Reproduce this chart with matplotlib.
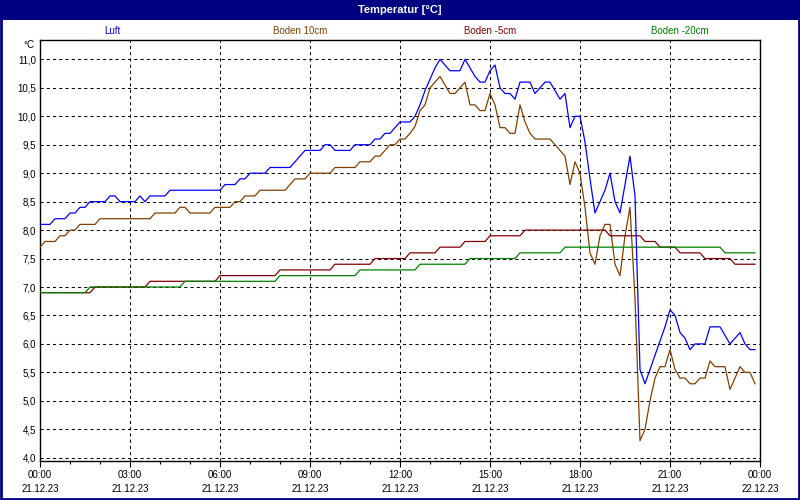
import matplotlib
matplotlib.use("Agg")
import matplotlib.pyplot as plt
import matplotlib.dates as mdates
import pandas as pd
from matplotlib.patches import Rectangle
from matplotlib.ticker import FuncFormatter, MultipleLocator

plt.rcParams['font.family'] = ['Liberation Sans', 'DejaVu Sans']

DAY = "2023-12-21"
TITLE = "Temperatur [°C]"
UNIT = "°C"

# series vertices (10 min logging)
luft_t = ["00:00", "00:20", "00:30", "00:50", "01:00", "01:10", "01:20", "01:30", "01:40", "02:10",
          "02:20", "02:30", "02:40", "03:10", "03:20", "03:30", "03:40", "04:10", "04:20", "06:00",
          "06:10", "06:30", "06:40", "06:50", "07:00", "07:30", "07:40", "08:20", "08:30", "08:40",
          "08:50", "09:20", "09:30", "09:40", "09:50", "10:20", "10:30", "11:00", "11:10", "11:20",
          "11:30", "11:40", "11:50", "12:00", "12:20", "12:30", "12:40", "12:50", "13:00", "13:10",
          "13:20", "13:30", "13:40", "14:00", "14:10", "14:20", "14:30", "14:40", "14:50", "15:00",
          "15:10", "15:20", "15:30", "15:40", "15:50", "16:00", "16:20", "16:30", "16:40", "16:50",
          "17:00", "17:10", "17:20", "17:30", "17:40", "17:50", "18:00", "18:10", "18:20", "18:30",
          "18:40", "18:50", "19:00", "19:10", "19:20", "19:30", "19:40", "19:50", "20:00", "20:10",
          "20:20", "20:30", "20:40", "20:50", "21:00", "21:10", "21:20", "21:30", "21:40", "21:50",
          "22:10", "22:20", "22:40", "22:50", "23:00", "23:10", "23:20", "23:30", "23:40", "23:50"]
luft_v = [8.1, 8.1, 8.2, 8.2, 8.3, 8.3, 8.4, 8.4, 8.5, 8.5,
          8.6, 8.6, 8.5, 8.5, 8.6, 8.5, 8.6, 8.6, 8.7, 8.7,
          8.8, 8.8, 8.9, 8.9, 9.0, 9.0, 9.1, 9.1, 9.2, 9.3,
          9.4, 9.4, 9.5, 9.5, 9.4, 9.4, 9.5, 9.5, 9.6, 9.6,
          9.7, 9.7, 9.8, 9.9, 9.9, 10.0, 10.2, 10.45, 10.65, 10.85,
          11.0, 10.9, 10.8, 10.8, 11.0, 10.85, 10.7, 10.6, 10.6, 10.8,
          10.9, 10.5, 10.4, 10.4, 10.3, 10.6, 10.6, 10.4, 10.5, 10.6,
          10.6, 10.45, 10.3, 10.4, 9.8, 10.0, 10.0, 9.55, 8.9, 8.3,
          8.5, 8.7, 9.0, 8.5, 8.3, 8.8, 9.3, 8.6, 5.55, 5.3,
          5.55, 5.8, 6.05, 6.3, 6.6, 6.5, 6.2, 6.1, 5.9, 6.0,
          6.0, 6.3, 6.3, 6.15, 6.0, 6.1, 6.2, 6.0, 5.9, 5.9]

boden10_t = ["00:00", "00:10", "00:30", "00:40", "00:50", "01:00", "01:10", "01:20", "01:50", "02:00",
             "03:40", "03:50", "04:30", "04:40", "04:50", "05:00", "05:40", "05:50", "06:20", "06:30",
             "06:40", "06:50", "07:10", "07:20", "08:10", "08:20", "08:30", "08:50", "09:00", "09:40",
             "09:50", "10:30", "10:40", "11:00", "11:10", "11:20", "11:30", "11:40", "11:50", "12:00",
             "12:10", "12:20", "12:30", "12:40", "12:50", "13:00", "13:10", "13:20", "13:30", "13:40",
             "13:50", "14:00", "14:10", "14:20", "14:30", "14:40", "14:50", "15:00", "15:10", "15:20",
             "15:30", "15:40", "15:50", "16:00", "16:10", "16:20", "16:30", "17:00", "17:10", "17:20",
             "17:30", "17:40", "17:50", "18:00", "18:10", "18:20", "18:30", "18:40", "18:50", "19:00",
             "19:10", "19:20", "19:30", "19:40", "19:50", "20:00", "20:10", "20:20", "20:30", "20:40",
             "20:50", "21:00", "21:10", "21:20", "21:30", "21:40", "21:50", "22:00", "22:10", "22:20",
             "22:30", "22:50", "23:00", "23:10", "23:20", "23:30", "23:40", "23:50"]
boden10_v = [7.7, 7.8, 7.8, 7.9, 7.9, 8.0, 8.0, 8.1, 8.1, 8.2,
             8.2, 8.3, 8.3, 8.4, 8.4, 8.3, 8.3, 8.4, 8.4, 8.5,
             8.5, 8.6, 8.6, 8.7, 8.7, 8.8, 8.9, 8.9, 9.0, 9.0,
             9.1, 9.1, 9.2, 9.2, 9.3, 9.3, 9.4, 9.5, 9.5, 9.6,
             9.6, 9.7, 9.82, 10.1, 10.2, 10.5, 10.6, 10.7, 10.55, 10.4,
             10.4, 10.5, 10.6, 10.2, 10.2, 10.1, 10.1, 10.4, 10.2, 9.8,
             9.8, 9.7, 9.7, 10.2, 9.9, 9.7, 9.6, 9.6, 9.5, 9.4,
             9.3, 8.8, 9.2, 9.0, 8.4, 7.6, 7.4, 7.9, 8.1, 8.1,
             7.4, 7.2, 7.9, 8.4, 6.8, 4.3, 4.5, 5.0, 5.4, 5.6,
             5.6, 5.9, 5.55, 5.4, 5.4, 5.3, 5.3, 5.4, 5.4, 5.7,
             5.6, 5.6, 5.2, 5.4, 5.6, 5.5, 5.5, 5.3]

boden5_t = ["00:00", "01:40", "01:50", "03:30", "03:40", "05:50", "06:00", "07:50", "08:00", "09:40",
            "09:50", "11:00", "11:10", "12:10", "12:20", "13:10", "13:20", "14:00", "14:10", "14:50",
            "15:00", "16:00", "16:10", "18:50", "19:00", "20:00", "20:10", "20:30", "20:40", "21:10",
            "21:20", "22:00", "22:10", "23:00", "23:10", "23:50"]
boden5_v = [6.9, 6.9, 7.0, 7.0, 7.1, 7.1, 7.2, 7.2, 7.3, 7.3,
            7.4, 7.4, 7.5, 7.5, 7.6, 7.6, 7.7, 7.7, 7.8, 7.8,
            7.9, 7.9, 8.0, 8.0, 7.9, 7.9, 7.8, 7.8, 7.7, 7.7,
            7.6, 7.6, 7.5, 7.5, 7.4, 7.4]

boden20_t = ["00:00", "01:30", "01:40", "04:40", "04:50", "07:50", "08:00", "10:30", "10:40", "12:30",
             "12:40", "14:10", "14:20", "15:50", "16:00", "17:20", "17:30", "22:40", "22:50", "23:50"]
boden20_v = [6.9, 6.9, 7.0, 7.0, 7.1, 7.1, 7.2, 7.2, 7.3, 7.3,
             7.4, 7.4, 7.5, 7.5, 7.6, 7.6, 7.7, 7.7, 7.6, 7.6]

labels = ["Luft", "Boden 10cm", "Boden -5cm", "Boden -20cm"]
colors = ["#0000ff", "#804000", "#800000", "#008000"]


def to_dt(times):
    return pd.to_datetime([f"{DAY} {t}" for t in times])


fig = plt.figure(figsize=(8, 5), dpi=100)
fig.patch.set_facecolor("white")

# title bar + frame
fig.add_artist(Rectangle((0, 1 - 20 / 500), 1, 20 / 500, transform=fig.transFigure,
                         facecolor="#000080", edgecolor="none"))
fig.add_artist(Rectangle((0.001, 0.002), 0.998, 0.996, transform=fig.transFigure,
                         facecolor="none", edgecolor="#000080", linewidth=2))
fig.text(0.5, 1 - 10 / 500, TITLE, color="white", fontsize=8, fontweight="bold",
         ha="center", va="center")

for lab, col, xp in zip(labels, colors, [112, 300, 490, 680]):
    fig.text(xp / 800, 1 - 31 / 500, lab, color=col, fontsize=7, ha="center", va="center")
fig.text(29 / 800, 1 - 44.5 / 500, UNIT, fontsize=7, ha="center", va="center")

ax = fig.add_axes([40 / 800, 1 - 460.7 / 500, 720 / 800, 420.7 / 500])
ax.set_facecolor("white")

# draw order: brown under red under green, blue on top
series = [(boden10_t, boden10_v, 1), (boden5_t, boden5_v, 2),
          (boden20_t, boden20_v, 3), (luft_t, luft_v, 0)]
for z, (t, v, i) in enumerate(series):
    ax.plot(to_dt(t), v, color=colors[i], linewidth=0.9, zorder=3 + z)

ax.set_xlim(pd.Timestamp(f"{DAY} 00:00"), pd.Timestamp("2023-12-22 00:00"))
ax.set_ylim(3.948, 11.34)

ax.xaxis.set_major_locator(mdates.HourLocator(byhour=range(0, 24, 3)))
ax.xaxis.set_minor_locator(mdates.HourLocator())
ax.xaxis.set_major_formatter(mdates.DateFormatter("%H:%M\n%d.%m.%y"))
ax.yaxis.set_major_locator(MultipleLocator(0.5))
ax.yaxis.set_major_formatter(FuncFormatter(lambda v, p: f"{v:.1f}".replace(".", ",")))

ax.tick_params(axis="x", which="major", length=4, width=0.8, labelsize=7, pad=3, direction="out")
ax.tick_params(axis="x", which="minor", length=2.5, width=0.8)
ax.tick_params(axis="y", length=0, labelsize=7, pad=3)

ax.grid(True, which="major", color="black", linestyle=(0, (3, 3)), linewidth=0.75, zorder=1)
ax.set_axisbelow(True)
for s in ax.spines.values():
    s.set_color("black")
    s.set_linewidth(1.0)

fig.canvas.draw()
for lbl in ax.get_xticklabels():
    lbl.set_linespacing(1.5)

fig.savefig("out.png", dpi=100)
